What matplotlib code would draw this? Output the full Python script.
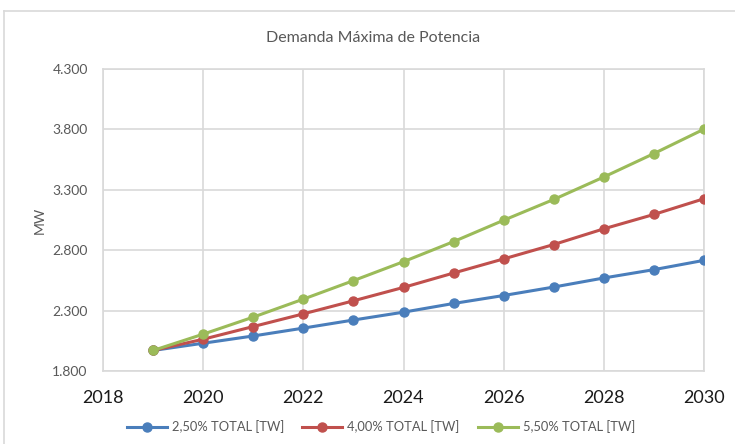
import matplotlib
matplotlib.use('Agg')
from matplotlib import pyplot as plt
from matplotlib.lines import Line2D
from matplotlib.ticker import FuncFormatter

# data
years = [2019, 2020, 2021, 2022, 2023, 2024, 2025, 2026, 2027, 2028, 2029, 2030]
demand_250 = [1970, 2030, 2090, 2155, 2222, 2287, 2359, 2425, 2495, 2570, 2639, 2716]
demand_400 = [1970, 2063, 2168, 2273, 2381, 2492, 2611, 2728, 2847, 2977, 3096, 3226]
demand_550 = [1970, 2105, 2246, 2395, 2548, 2705, 2871, 3048, 3220, 3406, 3600, 3802]
series_labels = ['2,50% TOTAL [TW]', '4,00% TOTAL [TW]', '5,50% TOTAL [TW]']
x_ticks = [2018, 2020, 2022, 2024, 2026, 2028, 2030]
y_ticks = [1800, 2300, 2800, 3300, 3800, 4300]

colors = ['#4a7ebb', '#c0504d', '#9bbb59']
grid_col = '#d9d9d9'
text_col = '#595959'

plt.rcParams['font.family'] = ['Lato', 'DejaVu Sans']

fig = plt.figure(figsize=(7.35, 4.44), dpi=100)
ax = fig.add_axes([103 / 735, 73 / 444, 601 / 735, 302 / 444])

for vals, col, lab in zip([demand_250, demand_400, demand_550], colors, series_labels):
	ax.plot(years, vals, color=col, lw=2.2, marker='o', markersize=6.5, label=lab, zorder=3)

ax.set_xlim(2018, 2030)
ax.set_ylim(1800, 4300)
ax.set_xticks(x_ticks)
ax.set_yticks(y_ticks)
ax.yaxis.set_major_formatter(FuncFormatter(lambda v, p: '{:,.0f}'.format(v).replace(',', '.')))
ax.grid(True, color=grid_col, lw=1.2, zorder=0)
for s in ax.spines.values():
	s.set_color(grid_col)
	s.set_linewidth(1.2)
ax.tick_params(axis='both', length=0)
ax.tick_params(axis='y', labelsize=10, labelcolor=text_col, pad=11)
ax.tick_params(axis='x', labelsize=13, labelcolor='#1a1a1a', pad=14)
ax.set_ylabel('MW', fontsize=10, color=text_col, labelpad=5)

fig.text(373 / 735, 1 - 38 / 444, 'Demanda Máxima de Potencia', ha='center', va='center',
		 fontsize=11.5, color=text_col)

# outer chart border (only top and left visible)
fig.add_artist(Line2D([4 / 735, 1], [1 - 11 / 444, 1 - 11 / 444], color=grid_col, lw=1.2))
fig.add_artist(Line2D([4 / 735, 4 / 735], [0, 1 - 11 / 444], color=grid_col, lw=1.2))

leg = fig.legend(loc='center', bbox_to_anchor=(381 / 735, 1 - 427 / 444), ncol=3, frameon=False,
				 fontsize=9.3, handlelength=3.1, columnspacing=1.4, handletextpad=0.4)
for t in leg.get_texts():
	t.set_color(text_col)

fig.savefig('out.png', dpi=100)
